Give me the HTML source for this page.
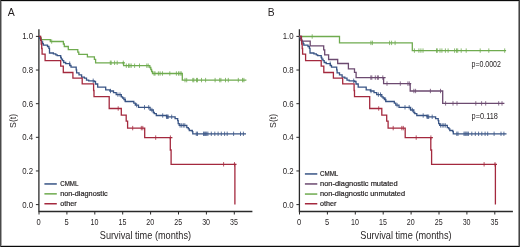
<!DOCTYPE html>
<html><head><meta charset="utf-8"><title>Survival curves</title>
<style>
html,body{margin:0;padding:0;background:#fff;}
body{width:520px;height:247px;overflow:hidden;position:relative;font-family:"Liberation Sans",sans-serif;}
svg{will-change:transform;}
</style></head><body>
<svg width="520" height="247" viewBox="0 0 520 247" style="position:absolute;left:0;top:0">
<rect x="0" y="0" width="520" height="247" fill="#ffffff"/>
<g font-family="Liberation Sans, sans-serif" fill="#231f20" stroke="#231f20" stroke-width="0">
<text x="7.7" y="15.8" font-size="11" textLength="7.0" lengthAdjust="spacingAndGlyphs">A</text>
<text x="267.70" y="15.8" font-size="11" textLength="6.9" lengthAdjust="spacingAndGlyphs">B</text>
<path d="M38.90,29.3V211.5H252.40" fill="none" stroke="#2a2a2a" stroke-width="1.3"/>
<path d="M35.90,204.60H38.90M35.90,170.96H38.90M35.90,137.32H38.90M35.90,103.68H38.90M35.90,70.04H38.90M35.90,36.40H38.90M39.00,211.5V214.5M66.90,211.5V214.5M94.80,211.5V214.5M122.70,211.5V214.5M150.60,211.5V214.5M178.50,211.5V214.5M206.40,211.5V214.5M234.30,211.5V214.5" fill="none" stroke="#2a2a2a" stroke-width="1"/>
<text x="22.20" y="207.50" font-size="8.5" textLength="10.9" lengthAdjust="spacingAndGlyphs">0.0</text>
<text x="22.20" y="173.86" font-size="8.5" textLength="10.9" lengthAdjust="spacingAndGlyphs">0.2</text>
<text x="22.20" y="140.22" font-size="8.5" textLength="10.9" lengthAdjust="spacingAndGlyphs">0.4</text>
<text x="22.20" y="106.58" font-size="8.5" textLength="10.9" lengthAdjust="spacingAndGlyphs">0.6</text>
<text x="22.20" y="72.94" font-size="8.5" textLength="10.9" lengthAdjust="spacingAndGlyphs">0.8</text>
<text x="22.20" y="39.30" font-size="8.5" textLength="10.9" lengthAdjust="spacingAndGlyphs">1.0</text>
<text x="36.60" y="224.8" font-size="8.5" textLength="4.2" lengthAdjust="spacingAndGlyphs">0</text>
<text x="64.50" y="224.8" font-size="8.5" textLength="4.2" lengthAdjust="spacingAndGlyphs">5</text>
<text x="90.55" y="224.8" font-size="8.5" textLength="7.9" lengthAdjust="spacingAndGlyphs">10</text>
<text x="118.45" y="224.8" font-size="8.5" textLength="7.9" lengthAdjust="spacingAndGlyphs">15</text>
<text x="146.35" y="224.8" font-size="8.5" textLength="7.9" lengthAdjust="spacingAndGlyphs">20</text>
<text x="174.25" y="224.8" font-size="8.5" textLength="7.9" lengthAdjust="spacingAndGlyphs">25</text>
<text x="202.15" y="224.8" font-size="8.5" textLength="7.9" lengthAdjust="spacingAndGlyphs">30</text>
<text x="230.05" y="224.8" font-size="8.5" textLength="7.9" lengthAdjust="spacingAndGlyphs">35</text>
<text x="145.45" y="239.0" text-anchor="middle" font-size="10.5" textLength="91.3" lengthAdjust="spacingAndGlyphs">Survival time (months)</text>
<text transform="translate(15.90,120.9) rotate(-90)" x="0" y="0" text-anchor="middle" font-size="8.5" textLength="14" lengthAdjust="spacingAndGlyphs">S(t)</text>
<path d="M299.40,29.3V211.5H512.90" fill="none" stroke="#2a2a2a" stroke-width="1.3"/>
<path d="M296.40,204.60H299.40M296.40,170.96H299.40M296.40,137.32H299.40M296.40,103.68H299.40M296.40,70.04H299.40M296.40,36.40H299.40M299.50,211.5V214.5M327.40,211.5V214.5M355.30,211.5V214.5M383.20,211.5V214.5M411.10,211.5V214.5M439.00,211.5V214.5M466.90,211.5V214.5M494.80,211.5V214.5" fill="none" stroke="#2a2a2a" stroke-width="1"/>
<text x="282.70" y="207.50" font-size="8.5" textLength="10.9" lengthAdjust="spacingAndGlyphs">0.0</text>
<text x="282.70" y="173.86" font-size="8.5" textLength="10.9" lengthAdjust="spacingAndGlyphs">0.2</text>
<text x="282.70" y="140.22" font-size="8.5" textLength="10.9" lengthAdjust="spacingAndGlyphs">0.4</text>
<text x="282.70" y="106.58" font-size="8.5" textLength="10.9" lengthAdjust="spacingAndGlyphs">0.6</text>
<text x="282.70" y="72.94" font-size="8.5" textLength="10.9" lengthAdjust="spacingAndGlyphs">0.8</text>
<text x="282.70" y="39.30" font-size="8.5" textLength="10.9" lengthAdjust="spacingAndGlyphs">1.0</text>
<text x="297.10" y="224.8" font-size="8.5" textLength="4.2" lengthAdjust="spacingAndGlyphs">0</text>
<text x="325.00" y="224.8" font-size="8.5" textLength="4.2" lengthAdjust="spacingAndGlyphs">5</text>
<text x="351.05" y="224.8" font-size="8.5" textLength="7.9" lengthAdjust="spacingAndGlyphs">10</text>
<text x="378.95" y="224.8" font-size="8.5" textLength="7.9" lengthAdjust="spacingAndGlyphs">15</text>
<text x="406.85" y="224.8" font-size="8.5" textLength="7.9" lengthAdjust="spacingAndGlyphs">20</text>
<text x="434.75" y="224.8" font-size="8.5" textLength="7.9" lengthAdjust="spacingAndGlyphs">25</text>
<text x="462.65" y="224.8" font-size="8.5" textLength="7.9" lengthAdjust="spacingAndGlyphs">30</text>
<text x="490.55" y="224.8" font-size="8.5" textLength="7.9" lengthAdjust="spacingAndGlyphs">35</text>
<text x="405.95" y="239.0" text-anchor="middle" font-size="10.5" textLength="91.3" lengthAdjust="spacingAndGlyphs">Survival time (months)</text>
<text transform="translate(276.40,120.9) rotate(-90)" x="0" y="0" text-anchor="middle" font-size="8.5" textLength="14" lengthAdjust="spacingAndGlyphs">S(t)</text>
<path d="M44.4,183.95H56.8" stroke="#385485" stroke-width="1.5"/>
<text x="60.2" y="185.90" font-size="7.5" textLength="18.3" lengthAdjust="spacingAndGlyphs" stroke-width="0.2">CMML</text>
<path d="M44.4,193.85H56.8" stroke="#6fab4f" stroke-width="1.5"/>
<text x="60.2" y="195.80" font-size="7.5" textLength="47.5" lengthAdjust="spacingAndGlyphs" stroke-width="0.2">non-diagnostic</text>
<path d="M44.4,203.75H56.8" stroke="#a4293e" stroke-width="1.5"/>
<text x="60.2" y="205.70" font-size="7.5" textLength="16.4" lengthAdjust="spacingAndGlyphs" stroke-width="0.2">other</text>
<path d="M304.90,173.95H317.30" stroke="#385485" stroke-width="1.5"/>
<text x="320.00" y="175.90" font-size="7.5" textLength="18.3" lengthAdjust="spacingAndGlyphs" stroke-width="0.2">CMML</text>
<path d="M304.90,183.95H317.30" stroke="#6c4a70" stroke-width="1.5"/>
<text x="320.00" y="185.90" font-size="7.5" textLength="77.6" lengthAdjust="spacingAndGlyphs" stroke-width="0.2">non-diagnostic mutated</text>
<path d="M304.90,194.05H317.30" stroke="#6fab4f" stroke-width="1.5"/>
<text x="320.00" y="196.00" font-size="7.5" textLength="85.1" lengthAdjust="spacingAndGlyphs" stroke-width="0.2">non-diagnostic unmutated</text>
<path d="M304.90,203.75H317.30" stroke="#a4293e" stroke-width="1.5"/>
<text x="320.00" y="205.70" font-size="7.5" textLength="16.4" lengthAdjust="spacingAndGlyphs" stroke-width="0.2">other</text>
<text x="471.5" y="66.8" font-size="8.25" textLength="29.4" lengthAdjust="spacingAndGlyphs">p=0.0002</text>
<text x="471.6" y="119.2" font-size="8.25" textLength="26.3" lengthAdjust="spacingAndGlyphs">p=0.118</text>
</g>
<g fill="none" stroke-linejoin="miter" stroke-linecap="butt">
<path d="M39.00,36.40H40.00V38.00H41.30V39.60H50.30V41.50H63.40V44.00H64.30V46.50H68.30V49.60H77.80V52.10H78.80V54.40H87.40V56.80H94.40V59.30H95.60V62.80H123.60V65.70H149.80V67.50H150.80V69.50H151.60V71.50H152.50V73.50H182.30V80.10H246.40" stroke="#6fab4f" stroke-width="1.3"/>
<path d="M51.70,39.30V43.70M110.30,60.60V65.00M111.20,60.60V65.00M114.60,60.60V65.00M117.20,60.60V65.00M123.30,60.60V65.00M126.30,63.50V67.90M128.50,63.50V67.90M129.80,63.50V67.90M131.20,63.50V67.90M134.60,63.50V67.90M139.50,63.50V67.90M146.80,63.50V67.90M148.20,63.50V67.90M154.00,71.30V75.70M155.00,71.30V75.70M158.40,71.30V75.70M160.10,71.30V75.70M162.50,71.30V75.70M169.80,71.30V75.70M176.40,71.30V75.70M178.50,71.30V75.70M180.00,71.30V75.70M181.20,71.30V75.70M185.00,77.90V82.30M186.70,77.90V82.30M192.80,77.90V82.30M193.80,77.90V82.30M196.50,77.90V82.30M197.50,77.90V82.30M201.50,77.90V82.30M205.60,77.90V82.30M215.10,77.90V82.30M219.70,77.90V82.30M220.90,77.90V82.30M225.50,77.90V82.30M228.30,77.90V82.30M238.30,77.90V82.30M242.50,77.90V82.30M243.90,77.90V82.30" stroke="#6fab4f" stroke-width="0.8"/>
<path d="M39.00,36.40H39.60V38.60H40.60V40.40H41.60V41.80H42.60V43.70H43.30V45.20H47.50V46.50H48.90V48.40H49.50V53.00H53.40V53.80H55.80V54.90H57.20V55.70H60.70V57.50H61.30V59.20H62.50V60.60H63.70V62.50H65.70V63.70H69.80V65.50H71.00V67.10H76.20V69.80H76.60V72.80H79.00V74.90H81.60V77.20H84.30V78.20H86.50V80.20H88.70V80.80H94.20V81.50H95.50V84.00H97.70V87.20H105.70V89.80H109.90V91.00H113.50V92.70H116.20V94.60H121.30V96.80H122.60V98.00H123.90V99.60H125.30V101.50H133.80V103.20H135.30V105.10H138.50V107.30H150.10V110.00H153.30V112.50H154.30V113.70H156.30V115.50H166.50V116.80H175.10V118.60H177.70V120.70H178.20V123.70H179.20V125.40H186.80V127.70H188.30V128.80H189.30V130.50H192.30V131.60H192.80V133.80H246.00" stroke="#385485" stroke-width="1.3"/>
<path d="M69.70,61.50V65.90M93.20,78.60V83.00M110.50,88.80V93.20M117.90,92.40V96.80M120.00,92.40V96.80M125.10,97.40V101.80M136.60,102.90V107.30M144.50,105.10V109.50M148.70,105.10V109.50M151.90,107.80V112.20M162.70,113.30V117.70M166.60,114.60V119.00M167.40,114.60V119.00M168.20,114.60V119.00M171.70,114.60V119.00M180.10,123.20V127.60M181.70,123.20V127.60M183.30,123.20V127.60M184.80,123.20V127.60M196.30,131.60V136.00M197.50,131.60V136.00M203.50,131.60V136.00M204.60,131.60V136.00M205.60,131.60V136.00M206.70,131.60V136.00M207.90,131.60V136.00M211.30,131.60V136.00M214.80,131.60V136.00M218.10,131.60V136.00M221.30,131.60V136.00M224.60,131.60V136.00M227.20,131.60V136.00M233.60,131.60V136.00M240.50,131.60V136.00M243.40,131.60V136.00" stroke="#385485" stroke-width="0.8"/>
<path d="M299.50,36.40H300.10V38.60H301.10V40.40H302.10V41.80H303.10V43.70H303.80V45.20H308.00V46.50H309.40V48.40H310.00V53.00H313.90V53.80H316.30V54.90H317.70V55.70H321.20V57.50H321.80V59.20H323.00V60.60H324.20V62.50H326.20V63.70H330.30V65.50H331.50V67.10H336.70V69.80H337.10V72.80H339.50V74.90H342.10V77.20H344.80V78.20H347.00V80.20H349.20V80.80H354.70V81.50H356.00V84.00H358.20V87.20H366.20V89.80H370.40V91.00H374.00V92.70H376.70V94.60H381.80V96.80H383.10V98.00H384.40V99.60H385.80V101.50H394.30V103.20H395.80V105.10H399.00V107.30H410.60V110.00H413.80V112.50H414.80V113.70H416.80V115.50H427.00V116.80H435.60V118.60H438.20V120.70H438.70V123.70H439.70V125.40H447.30V127.70H448.80V128.80H449.80V130.50H452.80V131.60H453.30V133.80H506.50" stroke="#385485" stroke-width="1.3"/>
<path d="M330.20,61.50V65.90M353.70,78.60V83.00M371.00,88.80V93.20M378.40,92.40V96.80M380.50,92.40V96.80M385.60,97.40V101.80M397.10,102.90V107.30M405.00,105.10V109.50M409.20,105.10V109.50M412.40,107.80V112.20M423.20,113.30V117.70M427.10,114.60V119.00M427.90,114.60V119.00M428.70,114.60V119.00M432.20,114.60V119.00M440.60,123.20V127.60M442.20,123.20V127.60M443.80,123.20V127.60M445.30,123.20V127.60M456.80,131.60V136.00M458.00,131.60V136.00M464.00,131.60V136.00M465.10,131.60V136.00M466.10,131.60V136.00M467.20,131.60V136.00M468.40,131.60V136.00M471.80,131.60V136.00M475.30,131.60V136.00M478.60,131.60V136.00M481.80,131.60V136.00M485.10,131.60V136.00M487.70,131.60V136.00M494.10,131.60V136.00M501.00,131.60V136.00M503.90,131.60V136.00" stroke="#385485" stroke-width="0.8"/>
<path d="M299.40,36.50H339.50V42.90H412.30V50.60H506.10" stroke="#6fab4f" stroke-width="1.3"/>
<path d="M312.20,34.30V38.70M370.90,40.70V45.10M372.40,40.70V45.10M389.60,40.70V45.10M391.60,40.70V45.10M395.10,40.70V45.10M414.40,48.40V52.80M418.90,48.40V52.80M420.90,48.40V52.80M423.00,48.40V52.80M436.50,48.40V52.80M437.30,48.40V52.80M440.00,48.40V52.80M441.90,48.40V52.80M445.40,48.40V52.80M448.10,48.40V52.80M454.60,48.40V52.80M456.50,48.40V52.80M457.70,48.40V52.80M461.20,48.40V52.80M466.20,48.40V52.80M480.20,48.40V52.80M488.80,48.40V52.80M504.70,48.40V52.80" stroke="#6fab4f" stroke-width="0.8"/>
<path d="M299.40,36.50H301.50V41.10H310.20V45.80H323.70V49.90H324.70V54.90H328.60V59.50H337.70V63.50H348.40V68.80H354.50V72.30H356.10V77.60H383.60V83.60H410.20V91.00H442.70V103.40H504.40" stroke="#6c4a70" stroke-width="1.3"/>
<path d="M370.80,75.40V79.80M371.80,75.40V79.80M375.30,75.40V79.80M377.40,75.40V79.80M378.40,75.40V79.80M382.80,75.40V79.80M387.00,81.40V85.80M400.30,81.40V85.80M407.90,81.40V85.80M409.30,81.40V85.80M413.90,88.80V93.20M415.60,88.80V93.20M430.40,88.80V93.20M440.50,88.80V93.20M445.60,101.20V105.60M453.00,101.20V105.60M457.00,101.20V105.60M475.80,101.20V105.60M481.60,101.20V105.60M485.70,101.20V105.60M498.70,101.20V105.60M502.00,101.20V105.60" stroke="#6c4a70" stroke-width="0.8"/>
<path d="M39.00,36.40H40.70V40.00H41.20V44.00H41.70V48.50H42.10V54.20H45.10V60.70H60.70V66.10H63.30V72.50H72.90V78.20H82.20V83.90H93.60V90.50H94.00V96.70H109.20V108.50H121.30V115.20H126.20V121.10H127.60V128.10H144.70V137.60H170.30V150.00H171.10V164.30H234.90V204.60H234.90" stroke="#a4293e" stroke-width="1.3"/>
<path d="M118.20,106.30V110.70M132.70,125.90V130.30M141.30,125.90V130.30M142.80,125.90V130.30M155.70,135.40V139.80M170.40,135.40V139.80M223.60,162.10V166.50M234.50,162.10V166.50" stroke="#a4293e" stroke-width="0.8"/>
<path d="M299.50,36.40H301.20V40.00H301.70V44.00H302.20V48.50H302.60V54.20H305.60V60.70H321.20V66.10H323.80V72.50H333.40V78.20H342.70V83.90H354.10V90.50H354.50V96.70H369.70V108.50H381.80V115.20H386.70V121.10H388.10V128.10H405.20V137.60H430.80V150.00H431.60V164.30H495.40V204.60H495.40" stroke="#a4293e" stroke-width="1.3"/>
<path d="M378.70,106.30V110.70M393.20,125.90V130.30M401.80,125.90V130.30M403.30,125.90V130.30M416.20,135.40V139.80M430.90,135.40V139.80M484.10,162.10V166.50M495.00,162.10V166.50" stroke="#a4293e" stroke-width="0.8"/>
<path d="M382.80,77.60H385.60M409.20,83.60H411.20" stroke="#6c4a70" stroke-width="1.3"/>
<path d="M169.40,137.60H172.40M233.50,164.30H236.50M429.90,137.60H432.90M494.00,164.30H497.00" stroke="#a4293e" stroke-width="1.3"/>
<path d="M122.30,62.80H124.80" stroke="#6fab4f" stroke-width="1.3"/>
</g>
<rect x="0" y="0" width="520" height="1" fill="#0a0a0a"/>
<rect x="0" y="1" width="520" height="1" fill="#d8d8d8"/>
<rect x="0" y="246" width="520" height="1" fill="#0a0a0a"/>
<rect x="0" y="245" width="520" height="1" fill="#c8c8c8"/>
<rect x="0" y="0" width="1" height="247" fill="#4a4a4a"/>
<rect x="1" y="1" width="1" height="245" fill="#a8a8a8"/>
<rect x="519" y="0" width="1" height="247" fill="#444444"/>
<rect x="518" y="1" width="1" height="245" fill="#959595"/>
</svg>
</body></html>
